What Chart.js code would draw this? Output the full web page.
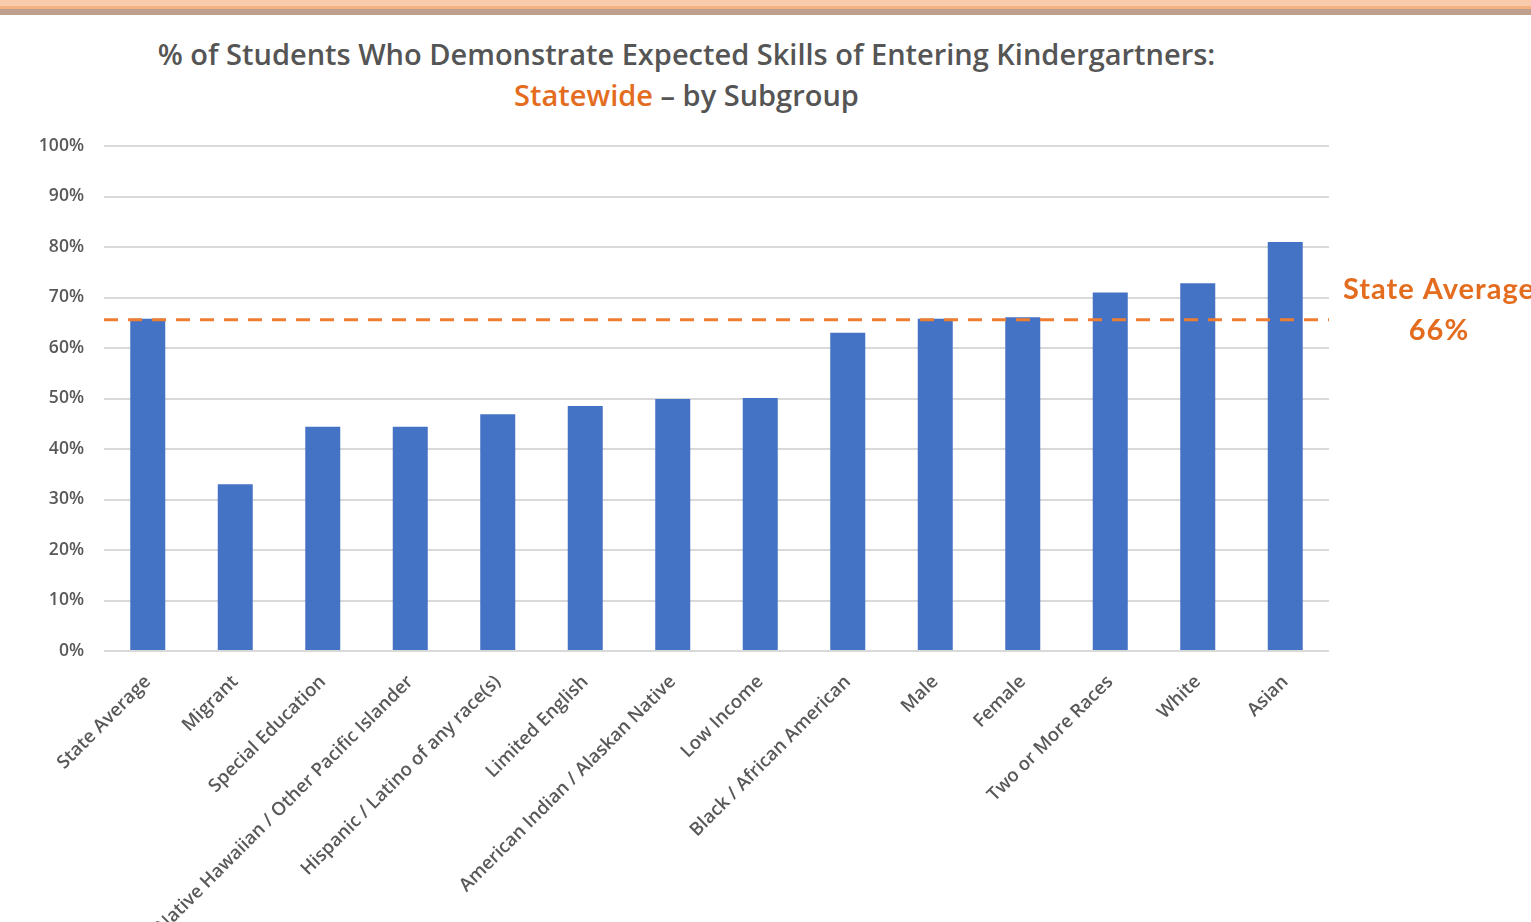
<!DOCTYPE html>
<html>
<head>
<meta charset="utf-8">
<script src="https://cdn.jsdelivr.net/npm/chart.js@4"></script>
<style>
  html, body { margin: 0; padding: 0; background: #fff; overflow: hidden; }
  body { width: 1531px; height: 922px; position: relative; font-family: "Open Sans", sans-serif; }
  .band-top { position: absolute; left: 0; top: 0; width: 100%; height: 6px; background: #f8cbad; }
  .band-mid { position: absolute; left: 0; top: 6px; width: 100%; height: 3px; background: #f4b183; }
  .band-low { position: absolute; left: 0; top: 9px; width: 100%; height: 6px; background: #bfa08e; }
  .titulo { position: absolute; left: 0; width: 1373px; text-align: center; color: #555;
            font-weight: 600; font-size: 29px; white-space: nowrap; }
  .laranja { color: #e46c1e; }
  #wrap { position: absolute; left: 0; top: 0; width: 1531px; height: 922px; }
</style>
</head>
<body>
<div class="band-top"></div>
<div class="band-mid"></div>
<div class="band-low"></div>
<div class="titulo" style="top:34px">% of Students Who Demonstrate Expected Skills of Entering Kindergartners:</div>
<div class="titulo" style="top:75px"><span class="laranja">Statewide</span> – by Subgroup</div>
<div id="wrap"><canvas id="grafico"></canvas></div>
<script>
// --- Dados do gráfico ---
const subgrupos = [
    'State Average', 'Migrant', 'Special Education', 'Native Hawaiian / Other Pacific Islander',
    'Hispanic / Latino of any race(s)', 'Limited English', 'American Indian / Alaskan Native',
    'Low Income', 'Black / African American', 'Male', 'Female', 'Two or More Races', 'White', 'Asian'
];
const percentuais = [65.8, 33, 44.4, 44.4, 46.9, 48.5, 49.9, 50.1, 63, 65.8, 66.1, 71, 72.8, 81];
const mediaEstadual = 65.6;
const rotuloMedia = ['State Average', '66%'];
const ticksY = [0, 10, 20, 30, 40, 50, 60, 70, 80, 90, 100];

const COR_BARRA = '#4472c4';
const COR_LARANJA = '#ed7d31';
const COR_TEXTO = '#595959';

// linha tracejada da média + rótulo à direita
const linhaMedia = {
    id: 'linhaMedia',
    afterDatasetsDraw(chart) {
        const { ctx, chartArea, scales } = chart;
        const y = scales.y.getPixelForValue(mediaEstadual);
        ctx.save();
        ctx.strokeStyle = COR_LARANJA;
        ctx.lineWidth = 3;
        ctx.setLineDash([14, 10]);
        ctx.beginPath();
        ctx.moveTo(chartArea.left, y);
        ctx.lineTo(chartArea.right, y);
        ctx.stroke();

        ctx.setLineDash([]);
        ctx.fillStyle = '#e46c1e';
        ctx.font = 'bold 29px Lato, sans-serif';
        ctx.letterSpacing = '1px';
        ctx.textAlign = 'center';
        ctx.textBaseline = 'middle';
        const cx = chartArea.right + 110;
        ctx.fillText(rotuloMedia[0], cx, y - 30);
        ctx.fillText(rotuloMedia[1], cx, y + 11);
        ctx.restore();
    }
};

document.addEventListener('DOMContentLoaded', () => {
    const ctx = document.getElementById('grafico').getContext('2d');
    new Chart(ctx, {
        type: 'bar',
        data: {
            labels: subgrupos,
            datasets: [{
                data: percentuais,
                backgroundColor: COR_BARRA,
                borderWidth: 0,
                barPercentage: 0.4,
                categoryPercentage: 1
            }]
        },
        options: {
            responsive: true,
            maintainAspectRatio: false,
            animation: false,
            layout: { padding: { left: 0, right: 202, top: 146, bottom: 0 } },
            plugins: { legend: { display: false }, tooltip: { enabled: false }, title: { display: false } },
            scales: {
                x: {
                    grid: { display: false },
                    border: { display: false },
                    ticks: {
                        autoSkip: false,
                        minRotation: 45,
                        maxRotation: 45,
                        padding: 12,
                        color: COR_TEXTO,
                        font: { family: 'Open Sans', size: 18.5, weight: '600' }
                    },
                    afterFit(scale) { scale.height = 271; }
                },
                y: {
                    min: 0,
                    max: 100,
                    afterBuildTicks(scale) { scale.ticks = ticksY.map(v => ({ value: v })); },
                    grid: { color: '#d9d9d9', lineWidth: 2, drawTicks: false },
                    border: { display: false },
                    ticks: {
                        padding: 20,
                        color: COR_TEXTO,
                        font: { family: 'Open Sans', size: 17.5, weight: '600' },
                        callback: v => v + '%'
                    },
                    afterFit(scale) { scale.width = 104; }
                }
            }
        },
        plugins: [linhaMedia]
    });
});
</script>
</body>
</html>
